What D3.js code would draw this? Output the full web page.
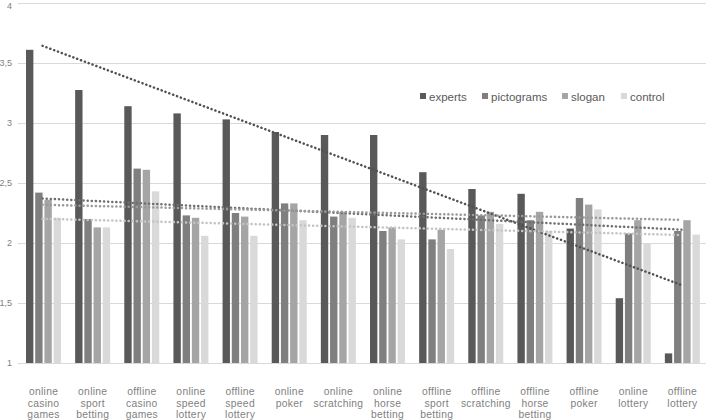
<!DOCTYPE html>
<html>
<head>
<meta charset="utf-8">
<script src="https://cdn.jsdelivr.net/npm/d3@7"></script>
<style>
  body { margin: 0; background: #fff; }
  svg { display: block; font-family: "Liberation Sans", Arial, sans-serif; }
</style>
</head>
<body>
<svg id="chart"></svg>
<script>
// categories, each one split into label lines
const categories = [
  ["online", "casino", "games"],
  ["online", "sport", "betting"],
  ["offline", "casino", "games"],
  ["online", "speed", "lottery"],
  ["offline", "speed", "lottery"],
  ["online", "poker"],
  ["online", "scratching"],
  ["online", "horse", "betting"],
  ["offline", "sport", "betting"],
  ["offline", "scratching"],
  ["offline", "horse", "betting"],
  ["offline", "poker"],
  ["online", "lottery"],
  ["offline", "lottery"]
];

const seriesNames = ["experts", "pictograms", "slogan", "control"];

const experts    = [3.61, 3.275, 3.14, 3.08, 3.03, 2.925, 2.9, 2.9, 2.59, 2.45, 2.41, 2.12, 1.54, 1.08];
const pictograms = [2.42, 2.2, 2.62, 2.23, 2.25, 2.33, 2.22, 2.1, 2.03, 2.23, 2.19, 2.375, 2.08, 2.1];
const slogan     = [2.36, 2.13, 2.61, 2.21, 2.22, 2.33, 2.26, 2.13, 2.11, 2.26, 2.26, 2.32, 2.19, 2.19];
const control    = [2.21, 2.13, 2.43, 2.06, 2.06, 2.19, 2.21, 2.03, 1.95, 2.16, 2.1, 2.28, 2.0, 2.07];

const yTicks = [1, 1.5, 2, 2.5, 3, 3.5, 4];

const width = 708, height = 420;
const colors = ["#595959", "#7f7f7f", "#a5a5a5", "#d9d9d9"];
const trendColors = ["#505050", "#6e6e6e", "#9a9a9a", "#c4c4c4"];

const series = [experts, pictograms, slogan, control];
const keys = categories.map(c => c.join(" "));

const svg = d3.select("#chart").attr("width", width).attr("height", height);

const y = d3.scaleLinear().domain([1, 4]).range([363, 3]);
const x0 = d3.scaleBand().domain(keys).range([18, 706]);
const x1 = d3.scaleBand().domain(seriesNames).range([8, 43]).paddingInner(0.2);

// grid
svg.append("g").selectAll("line").data(yTicks).enter().append("line")
  .attr("x1", 18).attr("x2", 706)
  .attr("y1", d => Math.round(y(d)) + 0.5).attr("y2", d => Math.round(y(d)) + 0.5)
  .attr("stroke", "#d9d9d9").attr("stroke-width", 1);

// y tick labels
const fmt = d => String(d).replace(".", ",");
svg.append("g").selectAll("text").data(yTicks).enter().append("text")
  .attr("x", 12).attr("y", d => Math.max(y(d) + 3, 9))
  .attr("text-anchor", "end")
  .attr("font-size", 9).attr("fill", "#7f7f7f")
  .text(fmt);

// bars
const groups = svg.append("g").selectAll("g").data(keys).enter().append("g")
  .attr("transform", d => `translate(${x0(d)},0)`);

groups.selectAll("rect")
  .data((d, i) => seriesNames.map((s, j) => ({ s, v: series[j][i], j })))
  .enter().append("rect")
  .attr("x", d => x1(d.s))
  .attr("width", x1.bandwidth())
  .attr("y", d => y(d.v))
  .attr("height", d => y(1) - y(d.v))
  .attr("fill", d => colors[d.j]);

// linear trend lines
series.forEach((vals, j) => {
  const n = vals.length;
  const mx = d3.mean(d3.range(n));
  const my = d3.mean(vals);
  const slope = d3.sum(vals, (v, i) => (i - mx) * (v - my)) / d3.sum(d3.range(n), i => (i - mx) * (i - mx));
  const f = i => my + slope * (i - mx);
  svg.append("line")
    .attr("x1", x0(keys[0]) + x0.bandwidth() / 2)
    .attr("x2", x0(keys[n - 1]) + x0.bandwidth() / 2)
    .attr("y1", y(f(0)))
    .attr("y2", y(f(n - 1)))
    .attr("stroke", trendColors[j])
    .attr("stroke-width", 2.5)
    .attr("stroke-dasharray", "0.1 4")
    .attr("stroke-linecap", "round");
});

// category labels
const labels = svg.append("g").selectAll("text").data(categories).enter().append("text")
  .attr("text-anchor", "middle")
  .attr("font-size", 10.3)
  .attr("letter-spacing", 0.3)
  .attr("fill", "#7f7f7f")
  .attr("transform", (d, i) => `translate(${x0(keys[i]) + x0.bandwidth() / 2 + 1},0)`);
labels.selectAll("tspan").data(d => d).enter().append("tspan")
  .attr("x", 0)
  .attr("y", (d, i) => 395 + i * 11.6)
  .text(d => d);

// legend
const legendX = [420, 482, 562, 621];
const legend = svg.append("g").selectAll("g").data(seriesNames).enter().append("g")
  .attr("transform", (d, i) => `translate(${legendX[i]},92)`);
legend.append("rect").attr("width", 6).attr("height", 6).attr("y", 1)
  .attr("fill", (d, i) => colors[i]);
legend.append("text").attr("x", 9).attr("y", 8.5)
  .attr("font-size", 11.5).attr("fill", "#595959")
  .text(d => d);
</script>
</body>
</html>
